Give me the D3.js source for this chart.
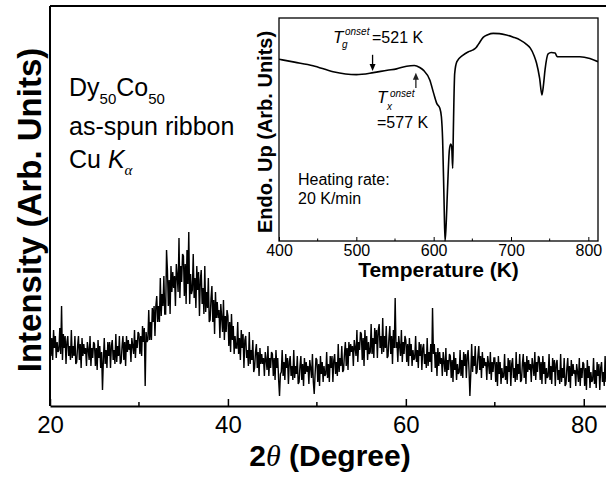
<!DOCTYPE html>
<html><head><meta charset="utf-8">
<script src="https://cdn.jsdelivr.net/npm/d3@7"></script>
<style>
body{margin:0;background:#fff;}
svg{display:block;}
text{font-family:"Liberation Sans",Arial,sans-serif;fill:#000;}
</style>
</head><body>
<svg id="c" width="606" height="479"></svg>
<script>
// ---------- DATA ----------
// XRD pattern: 2theta from 20 deg in 0.1 deg steps, intensity (arb. units)
const xrdStart = 20, xrdStep = 0.1;
const xrdIntensity = [
36,25,34,23,38,29,35,24,32,27,
28,39,26,50,23,36,29,35,21,32,
35,25,30,23,38,24,30,25,35,21,
22,30,35,23,31,19,34,25,31,26,
29,20,32,28,23,35,20,29,24,32,
31,20,29,18,33,24,30,19,27,8,
23,34,21,28,19,32,25,32,19,30,
33,23,28,21,36,22,30,25,35,21,
22,30,35,23,32,20,35,27,33,28,
31,22,34,30,26,38,24,33,29,37,
36,26,35,25,40,32,39,10,37,32,
33,48,33,42,33,49,42,50,35,50,
55,42,50,42,64,45,56,50,65,46,
46,78,68,50,63,46,70,57,67,59,
65,50,71,65,57,84,54,70,62,76,
75,55,71,51,78,61,87,51,66,56,
58,76,54,64,49,70,58,67,45,63,
68,51,59,46,70,47,57,49,64,42,
43,54,60,42,53,36,57,44,52,44,
48,34,51,44,37,53,33,45,37,48,
45,30,42,27,46,33,40,26,35,29,
29,42,26,34,23,38,29,36,19,33,
35,24,28,20,37,21,28,23,33,17,
19,27,31,19,27,15,29,21,26,21,
24,15,27,23,18,30,15,24,19,27,
26,15,24,13,28,19,24,13,5,16,
17,28,15,22,13,26,19,24,11,22,
25,15,20,13,28,14,20,16,25,11,
12,20,25,13,21,10,24,16,22,17,
20,11,23,19,14,26,12,6,16,24,
23,12,21,10,25,16,22,12,20,15,
16,27,14,21,12,25,19,25,12,23,
26,16,22,15,31,17,24,20,30,17,
18,26,32,20,29,18,32,25,31,27,
30,20,33,29,25,38,22,32,28,37,
36,23,34,20,38,28,35,23,32,26,
27,41,26,34,24,39,31,38,24,38,
41,29,35,26,44,27,35,29,40,24,
25,34,40,26,35,21,38,29,54,29,
32,22,35,30,25,38,22,32,26,35,
33,22,31,20,34,25,31,20,28,23,
24,35,22,28,19,32,25,31,18,29,
31,21,26,19,34,20,27,22,31,17,
49,26,31,19,27,15,29,20,27,21,
24,15,27,22,17,29,15,23,18,26,
25,14,23,12,27,18,24,13,21,16,
17,28,15,23,14,27,20,26,14,25,
28,18,5,16,31,17,25,20,30,16,
17,25,30,18,25,14,27,19,24,20,
22,13,25,21,16,27,13,22,17,24,
24,12,22,10,25,16,22,11,19,14,
15,26,13,20,11,24,17,23,10,21,
24,14,19,12,27,13,21,16,26,12,
13,21,26,14,22,11,25,17,23,18,
21,12,24,20,15,27,13,22,17,25,
24,13,22,11,25,16,22,11,19,14,
15,26,13,20,11,24,17,23,10,21,
23,13,18,11,26,12,19,14,24,10,
11,19,24,12,20,9,23,15,21,16,
18,10,21,17,12,24,10,19,14,22,
21,10,19,8,23,14,20,9,17,12,
13,24,11,18,9,22,15,21,8,19,
22,12,17,10,25,12
];
const xrdTicks = [20, 40, 60, 80];
const xrdMinorTicks = [30, 50, 70];

// DSC inset: temperature (K) and heat flow (arb. units, endo up)
const dscTemp = [400,420,444,470,500,522,540,552,565,575,582,587,595,600,604,608,610,611.6,613.4,614.7,616,618,620.3,622,623.3,624.6,625.4,627.2,630,638,645,651,655,658,664,670,677,685,694,703,712,720,725,730,733,737,740,742,744,748,752,757,759,761,770,789,802,812.5];
const dscSignal = [8.15,8.02,7.86,7.59,7.46,7.55,7.66,7.72,7.84,7.87,7.78,7.65,7.22,6.62,6.17,5.95,5.57,4.53,1.84,0,0.64,2.4,4.08,4.35,4.23,3.26,4.84,7.52,8.04,8.34,8.49,8.57,8.68,8.83,9.13,9.25,9.31,9.30,9.24,9.14,9.01,8.82,8.65,8.3,7.98,7.3,6.55,7.0,7.67,8.39,8.45,8.43,8.3,8.26,8.26,8.26,8.18,8.04];
const dscTicks = [400, 500, 600, 700, 800];
const dscMinorTicks = [450, 550, 650, 750];
// onset markers: temperature, arrow start / end (signal units)
const tgOnset = {T: 521, from: 8.35, to: 7.62};
const txOnset = {T: 577, from: 6.86, to: 7.55};

// ---------- DRAW ----------
const svg = d3.select("#c");
svg.append("rect").attr("width",606).attr("height",479).attr("fill","#fff");

const M = {left:50, top:6, bottom:406, right:606};
const x = d3.scaleLinear().domain([20, 82.5]).range([M.left, M.right]);
const y = d3.scaleLinear().domain([0, 200]).range([M.bottom, M.top]);

svg.append("clipPath").attr("id","mainclip").append("rect")
  .attr("x",M.left).attr("y",M.top).attr("width",M.right-M.left).attr("height",M.bottom-M.top);

const xrd = xrdIntensity.map((v,i)=>({a: xrdStart + i*xrdStep, v}));
svg.append("path").datum(xrd)
  .attr("clip-path","url(#mainclip)")
  .attr("fill","none").attr("stroke","#000").attr("stroke-width",1.4)
  .attr("stroke-linejoin","miter").attr("stroke-miterlimit",2)
  .attr("d", d3.line().x(d=>x(d.a)).y(d=>y(d.v)));

// frame lines
svg.append("line").attr("x1",M.left).attr("x2",M.right).attr("y1",M.top).attr("y2",M.top)
  .attr("stroke","#000").attr("stroke-width",2);
svg.append("line").attr("x1",M.left).attr("x2",M.left).attr("y1",M.top).attr("y2",M.bottom)
  .attr("stroke","#000").attr("stroke-width",2);

const gx = svg.append("g").attr("transform",`translate(0,${M.bottom})`)
  .call(d3.axisBottom(x).tickValues(xrdTicks).tickSize(-7).tickSizeOuter(0).tickPadding(10).tickFormat(d3.format("d")));
gx.select(".domain").attr("stroke-width",2);
gx.selectAll(".tick line").attr("stroke-width",1.5);
gx.selectAll(".tick text").attr("font-size",24).attr("font-family","Liberation Sans, Arial, sans-serif");
gx.append("g").selectAll("line").data(xrdMinorTicks).join("line")
  .attr("x1",d=>x(d)).attr("x2",d=>x(d)).attr("y1",0).attr("y2",-4)
  .attr("stroke","#000").attr("stroke-width",1.5);

// axis titles
svg.append("text").attr("transform","translate(41,210) rotate(-90)")
  .attr("text-anchor","middle").attr("font-size",33).attr("font-weight","bold")
  .text("Intensity (Arb. Units)");
const xt = svg.append("text").attr("x",330).attr("y",466).attr("text-anchor","middle")
  .attr("font-size",30).attr("font-weight","bold");
xt.append("tspan").text("2");
xt.append("tspan").attr("font-family","Liberation Serif, serif").attr("font-style","italic").attr("font-weight","normal").text("θ");
xt.append("tspan").text(" (Degree)");

// sample label
const l1 = svg.append("text").attr("x",69).attr("y",96).attr("font-size",25);
l1.append("tspan").text("Dy");
l1.append("tspan").attr("font-size",15).attr("dy",8).text("50");
l1.append("tspan").attr("dy",-8).text("Co");
l1.append("tspan").attr("font-size",15).attr("dy",8).text("50");
svg.append("text").attr("x",69).attr("y",135).attr("font-size",25).text("as-spun ribbon");
const l3 = svg.append("text").attr("x",69).attr("y",168).attr("font-size",25);
l3.append("tspan").text("Cu ");
l3.append("tspan").attr("font-style","italic").text("K");
l3.append("tspan").attr("font-family","Liberation Serif, serif").attr("font-style","italic").attr("font-size",15).attr("dy",7).text("α");

// ---------- INSET ----------
const I = {left:279, right:598, top:18, bottom:241};
const ix = d3.scaleLinear().domain([400, 812.5]).range([I.left, I.right]);
const iy = d3.scaleLinear().domain([0, 10]).range([I.bottom, I.top]);

svg.append("rect").attr("x",I.left).attr("y",I.top).attr("width",I.right-I.left).attr("height",I.bottom-I.top)
  .attr("fill","#fff").attr("stroke","none");
svg.append("clipPath").attr("id","insetclip").append("rect")
  .attr("x",I.left).attr("y",I.top).attr("width",I.right-I.left).attr("height",I.bottom-I.top+1);

svg.append("path").datum(dscTemp.map((t,i)=>({t, s: dscSignal[i]})))
  .attr("clip-path","url(#insetclip)")
  .attr("fill","none").attr("stroke","#000").attr("stroke-width",1.6)
  .attr("d", d3.line().x(d=>ix(d.t)).y(d=>iy(d.s)).curve(d3.curveMonotoneX));

svg.append("rect").attr("x",I.left).attr("y",I.top).attr("width",I.right-I.left).attr("height",I.bottom-I.top)
  .attr("fill","none").attr("stroke","#000").attr("stroke-width",1.3);

const igx = svg.append("g").attr("transform",`translate(0,${I.bottom})`)
  .call(d3.axisBottom(ix).tickValues(dscTicks).tickSize(-4).tickSizeOuter(0).tickPadding(4).tickFormat(d3.format("d")));
igx.select(".domain").attr("stroke","none");
igx.selectAll(".tick text").attr("font-size",16).attr("font-family","Liberation Sans, Arial, sans-serif");
igx.append("g").selectAll("line").data(dscMinorTicks).join("line")
  .attr("x1",d=>ix(d)).attr("x2",d=>ix(d)).attr("y1",0).attr("y2",-2.5)
  .attr("stroke","#000").attr("stroke-width",1);

svg.append("text").attr("x",(I.left+I.right)/2).attr("y",277).attr("text-anchor","middle")
  .attr("font-size",21).attr("font-weight","bold").text("Temperature (K)");
svg.append("text").attr("transform","translate(272,132) rotate(-90)")
  .attr("text-anchor","middle").attr("font-size",20).attr("font-weight","bold")
  .text("Endo. Up (Arb. Units)");

// arrows
function arrow(T, from, to, color){
  const xx = ix(T), y1 = iy(from), y2 = iy(to);
  const dir = Math.sign(y2 - y1);
  svg.append("line").attr("x1",xx).attr("x2",xx).attr("y1",y1).attr("y2",y2 - dir*6)
    .attr("stroke",color).attr("stroke-width",1.3);
  svg.append("path").attr("d",`M${xx},${y2} L${xx-3},${y2-dir*7} L${xx+3},${y2-dir*7} Z`).attr("fill",color);
}
arrow(tgOnset.T, tgOnset.from, tgOnset.to, "#000");
arrow(txOnset.T, txOnset.from, txOnset.to, "#222");

// Tg label
svg.append("text").attr("x",333).attr("y",43).attr("font-size",17).attr("font-style","italic").text("T");
svg.append("text").attr("x",345).attr("y",35).attr("font-size",10).attr("font-style","italic").text("onset");
svg.append("text").attr("x",342).attr("y",48).attr("font-size",10).attr("font-style","italic").text("g");
svg.append("text").attr("x",372).attr("y",43).attr("font-size",16).text("=521 K");
// Tx label
svg.append("text").attr("x",377).attr("y",103).attr("font-size",17).attr("font-style","italic").text("T");
svg.append("text").attr("x",390).attr("y",97).attr("font-size",10).attr("font-style","italic").text("onset");
svg.append("text").attr("x",387).attr("y",110).attr("font-size",10).attr("font-style","italic").text("x");
svg.append("text").attr("x",377).attr("y",128).attr("font-size",16).text("=577 K");

svg.append("text").attr("x",298).attr("y",185).attr("font-size",16).text("Heating rate:");
svg.append("text").attr("x",298).attr("y",204).attr("font-size",16).text("20 K/min");
</script>
</body></html>
